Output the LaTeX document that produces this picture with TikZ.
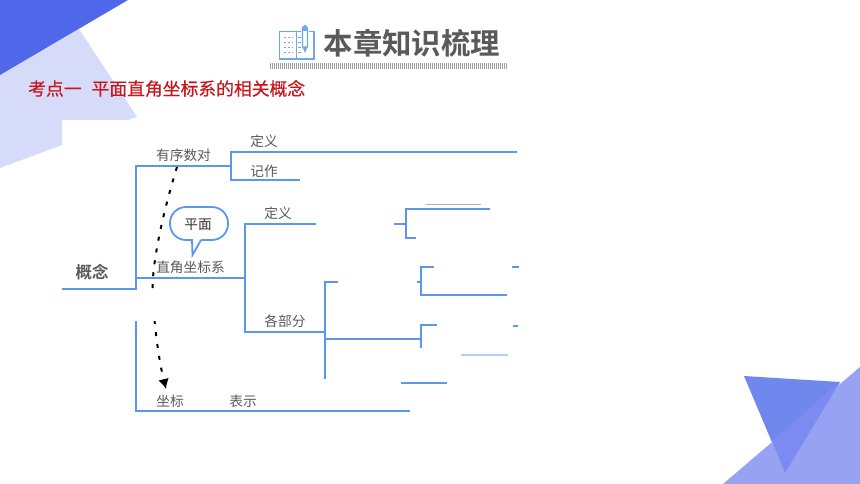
\documentclass[tikz,border=0pt]{standalone}
\usepackage{fontspec}
\newfontfamily\cjk{Noto Sans CJK SC}
\newfontfamily\cjkb{Noto Sans CJK SC Bold}
\newfontfamily\cjkred[FakeBold=0.4]{Noto Sans CJK SC}
\usetikzlibrary{arrows.meta}
\definecolor{treeblue}{HTML}{5B96F0}
\definecolor{lbl}{HTML}{5A5A5A}
\definecolor{bluedark}{HTML}{4F67E8}
\definecolor{bluepale}{HTML}{D5DBF8}
\definecolor{bluelight}{HTML}{97A3F2}
\definecolor{bluemid}{HTML}{7088EE}
\definecolor{blueover}{HTML}{7C8BF1}
\definecolor{redtxt}{HTML}{C8161D}
\definecolor{iconblue}{HTML}{6FA8E6}
\tikzset{
  tree/.style={draw=treeblue,line width=2pt,line cap=butt,line join=miter},
  lab/.style={text=lbl,inner sep=0pt,font=\cjk\fontsize{13.7}{16}\selectfont},
  iconline/.style={draw=iconblue,line width=1.2pt},
}
\begin{document}
\begin{tikzpicture}[x=1pt,y=-1pt]
\useasboundingbox (0,0) rectangle (860,484);
\fill[white] (0,0) rectangle (860,484);
% decoration, top left
\fill[bluepale] (0,75) -- (79,29) -- (137,117) -- (128,120) -- (62,120) -- (62,145) -- (0,168) -- cycle;
\fill[bluedark] (0,0) -- (128,0) -- (0,75) -- cycle;
% decoration, bottom right
\fill[bluemid] (744,376) -- (840,382) -- (785,473) -- cycle;
\fill[bluelight] (723,484) -- (860,367) -- (860,484) -- cycle;
\fill[blueover] (840,382) -- (772,441) -- (785,473) -- cycle;
% heading icon
\draw[iconline] (279.5,31.5) rectangle (314,59);
\draw[iconline] (296.5,31.5) -- (296.5,59);
\foreach \yy in {38,43,48,53}{
  \draw[iconblue,line width=1pt,dash pattern=on 2pt off 2pt] (284,\yy) -- (293,\yy);
  \draw[iconblue,line width=1pt] (298,\yy) -- (302,\yy);
}
\fill[white] (301,25) rectangle (309,54);
\draw[iconblue,line width=1.3pt,fill=white] (302.5,47) -- (302.5,28) -- (305,25.5) -- (307.5,28) -- (307.5,47) -- cycle;
\fill[iconblue] (302.5,28) -- (305,25.5) -- (307.5,28) -- (307.5,31) -- (302.5,31) -- cycle;
\fill[iconblue] (302.5,47) -- (307.5,47) -- (305,53) -- cycle;
% heading
\node[anchor=west,inner sep=0pt,text=lbl,font=\cjkb\fontsize{29.4}{30}\selectfont] (title) at (323.5,43) {本章知识梳理};
\draw[draw=black!38,line width=6pt,dash pattern=on 1pt off 1pt] (270,66) -- (508,66);
\node[anchor=west,inner sep=0pt,text=redtxt,font=\cjkred\fontsize{17.8}{19}\selectfont] (sub) at (28,88.5) {考点一\hspace{10pt}平面直角坐标系的相关概念};
% dashed arrow
\coordinate (d0) at (177,167);
\coordinate (d1) at (166,389);
\draw[black,line width=2pt,dash pattern=on 4pt off 8pt,-{Latex[length=10pt,width=11pt]}] (d0) .. controls (160,222) and (150,275) .. (153,300) .. controls (155,335) and (160,365) .. (d1);
\fill[white] (130,292) rectangle (175,321);
% tree, level 1
\draw[tree] (62,289) -- (136,289);
\draw[tree] (136,290) -- (136,166) -- (231,166);
\draw[tree] (136,321) -- (136,411) -- (410,411);
\draw[tree] (136,278) -- (245,278);
\draw[tree] (517,152) -- (231,152) -- (231,180) -- (300,180);
% tree, level 2
\draw[tree] (316,224) -- (245,224) -- (245,332) -- (325,332);
\draw[tree] (394,224) -- (406,224);
\draw[tree] (490,209.5) -- (406,209.5) -- (406,238) -- (416,238);
\draw[tree] (338,282) -- (325,282) -- (325,379);
\draw[tree] (325,339) -- (421,339);
\draw[tree] (434,267) -- (421,267) -- (421,295) -- (507,295);
\draw[tree] (417,282) -- (421,282);
\draw[tree] (512,267) -- (519,267);
\draw[tree] (437,325) -- (421,325) -- (421,348);
\draw[tree] (513,325.5) -- (518,325.5);
\draw[draw=treeblue!45,line width=2pt] (461,355) -- (508,355);
\draw[tree] (401,382.5) -- (447,382.5);
\draw[black!30,line width=0.7pt] (426,204) -- (481,204);
% bubble
\draw[draw=treeblue,line width=1.8pt,fill=white,rounded corners=16pt] (193,240) -- (170,240) -- (170,207) -- (228,207) -- (228,240) -- (201,240);
\draw[draw=treeblue,line width=1.8pt,fill=white,line join=miter] (192,239.5) -- (192.5,255) -- (201,240);
% labels
\node[text=black!80,inner sep=0pt,font=\cjk\fontsize{13.7}{16}\selectfont] (plane) at (198,225) {平面};
\node[lab] (n1) at (183.5,155) {有序数对};
\node[lab] (n2) at (264,141) {定义};
\node[lab] (n3) at (264,171) {记作};
\node[lab] (n4) at (190.5,267) {直角坐标系};
\node[lab] (n5) at (278,213) {定义};
\node[lab] (n6) at (285,321) {各部分};
\node[lab] (n7) at (170,401) {坐标};
\node[lab] (n8) at (243,401) {表示};
\node[inner sep=0pt,text=lbl,font=\cjkb\fontsize{16.5}{18}\selectfont] (root) at (92,272) {概念};
\end{tikzpicture}
\end{document}
